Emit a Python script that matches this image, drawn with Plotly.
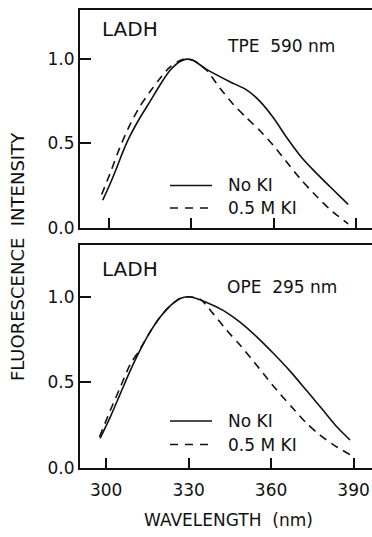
import plotly.graph_objects as go

W, H = 372, 537

# ---- data ----
wl_top_noki = [297.6, 300.3, 302.7, 305.1, 307.6, 311.2, 314.9, 318.5, 322.2, 325.8, 328.2, 330.7, 335.5, 344.0, 350.1, 355.0, 359.9, 364.7, 369.6, 374.5, 380.5, 387.2]
fi_top_noki = [0.163, 0.26, 0.355, 0.455, 0.545, 0.651, 0.748, 0.845, 0.932, 0.984, 0.998, 0.99, 0.937, 0.864, 0.816, 0.748, 0.651, 0.535, 0.428, 0.341, 0.244, 0.138]

wl_top_ki = [297.2, 300.3, 303.9, 307.6, 311.2, 314.9, 318.5, 322.2, 325.8, 328.2, 330.7, 335.5, 340.4, 345.3, 350.1, 355.0, 359.9, 364.7, 369.6, 374.5, 380.5, 387.2]
fi_top_ki = [0.196, 0.322, 0.477, 0.612, 0.719, 0.806, 0.884, 0.952, 0.99, 0.998, 0.99, 0.932, 0.826, 0.729, 0.651, 0.574, 0.487, 0.39, 0.292, 0.205, 0.109, 0.022]

wl_bot_noki = [297.8, 301.5, 305.1, 308.7, 312.4, 316.0, 319.6, 323.3, 326.9, 330.2, 336.6, 342.7, 348.7, 354.8, 360.8, 366.9, 373.0, 379.0, 383.9, 388.7]
fi_bot_noki = [0.174, 0.298, 0.432, 0.566, 0.69, 0.795, 0.881, 0.947, 0.99, 1.0, 0.967, 0.919, 0.852, 0.766, 0.67, 0.566, 0.451, 0.336, 0.241, 0.164]

wl_bot_ki = [297.6, 301.5, 305.1, 308.7, 312.4, 316.0, 319.6, 323.3, 326.9, 330.2, 334.2, 339.0, 343.9, 348.7, 353.6, 358.4, 363.3, 368.1, 373.0, 377.8, 382.7, 388.7]
fi_bot_ki = [0.183, 0.336, 0.47, 0.603, 0.695, 0.795, 0.881, 0.947, 0.99, 1.0, 0.986, 0.90, 0.804, 0.718, 0.623, 0.527, 0.432, 0.346, 0.26, 0.193, 0.136, 0.079]

x_ticks = [300, 330, 360, 390]
y_ticks = [0.0, 0.5, 1.0]
y_tick_text = ["0.0", "0.5", "1.0"]

FONT = "DejaVu Sans"
INK = "#111111"


def px(x):
    return x / W


def py(y):
    return 1 - y / H


fig = go.Figure()
solid = dict(color=INK, width=1.6, shape="spline", smoothing=0.8)
dashed = dict(color=INK, width=1.6, shape="spline", smoothing=0.8, dash="8px,6px")

fig.add_trace(go.Scatter(x=wl_top_noki, y=fi_top_noki, mode="lines", line=solid, xaxis="x", yaxis="y", name="No KI"))
fig.add_trace(go.Scatter(x=wl_top_ki, y=fi_top_ki, mode="lines", line=dashed, xaxis="x", yaxis="y", name="0.5 M KI"))
fig.add_trace(go.Scatter(x=wl_bot_noki, y=fi_bot_noki, mode="lines", line=solid, xaxis="x2", yaxis="y2", name="No KI"))
fig.add_trace(go.Scatter(x=wl_bot_ki, y=fi_bot_ki, mode="lines", line=dashed, xaxis="x2", yaxis="y2", name="0.5 M KI"))

xdom = [80 / W, 1.0]

common_x = dict(domain=xdom, tickvals=x_ticks, ticks="inside", ticklen=10, tickwidth=1.6,
                tickcolor=INK, showline=True, linewidth=2, linecolor=INK, mirror=True,
                showgrid=False, zeroline=False, tickfont=dict(family=FONT, size=17, color=INK))
common_y = dict(tickvals=y_ticks, ticktext=y_tick_text, ticks="inside", ticklen=11, tickwidth=1.6,
                tickcolor=INK, showline=True, linewidth=2, linecolor=INK, mirror=False,
                showgrid=False, zeroline=False, tickfont=dict(family=FONT, size=17, color=INK))

fig.update_layout(
    width=W, height=H,
    margin=dict(l=0, r=0, t=0, b=0),
    paper_bgcolor="white", plot_bgcolor="white",
    showlegend=False,
    xaxis=dict(common_x, anchor="y", range=[289.3, 395.9], showticklabels=False),
    yaxis=dict(common_y, anchor="x", range=[0, 1.29], domain=[py(232), py(10)]),
    xaxis2=dict(common_x, anchor="y2", range=[290.5, 396.7], showticklabels=True, ticklabelstandoff=5),
    yaxis2=dict(common_y, anchor="x2", range=[0, 1.30], domain=[py(477), py(250)]),
)

ann = []


def text(s, x, y, size, xa="left", angle=0):
    ann.append(dict(text=s, x=px(x), y=py(y), xref="paper", yref="paper", showarrow=False,
                    xanchor=xa, yanchor="middle", textangle=angle,
                    font=dict(family=FONT, size=size, color=INK)))


text("LADH", 100, 30, 20)
text("TPE  590 nm", 225, 47, 17)
text("LADH", 100, 274, 20)
text("OPE  295 nm", 225, 292, 17)
text("No KI", 226, 189, 17)
text("0.5 M KI", 226, 212, 17)
text("No KI", 226, 429, 17)
text("0.5 M KI", 226, 453, 17)
text("FLUORESCENCE  INTENSITY", 17, 262, 18, xa="center", angle=-90)
text("WAVELENGTH  (nm)", 228, 530, 17, xa="center")
fig.update_layout(annotations=ann)

shapes = []
for yy, dash in [(189, "solid"), (212, "8px,7px"), (429, "solid"), (453, "8px,7px")]:
    shapes.append(dict(type="line", xref="paper", yref="paper", x0=px(170), x1=px(212),
                       y0=py(yy), y1=py(yy), line=dict(color=INK, width=1.6, dash=dash)))
fig.update_layout(shapes=shapes)

fig.write_html("out.html")
